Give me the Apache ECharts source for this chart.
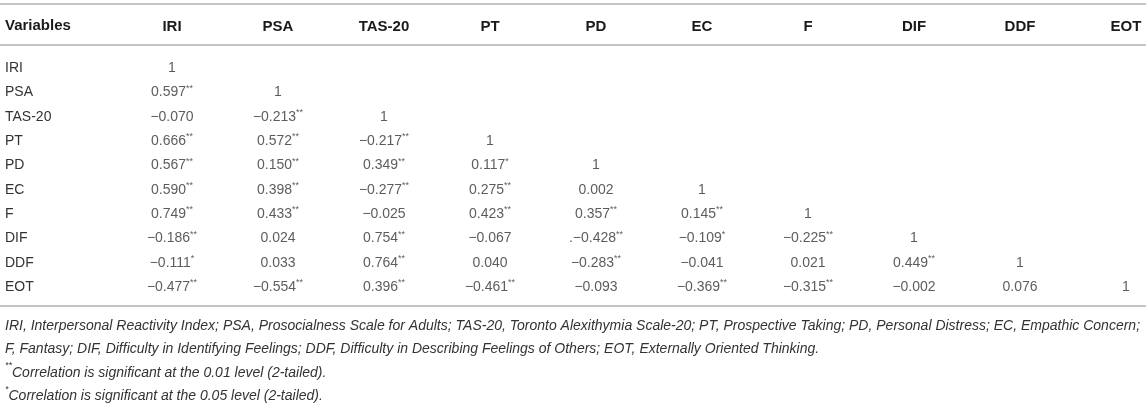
<!DOCTYPE html>
<html>
<head>
<meta charset="utf-8">
<script src="https://cdn.jsdelivr.net/npm/echarts@6/dist/echarts.min.js"></script>
<style>
  html, body { margin: 0; padding: 0; background: #fff; }
  #chart { width: 1146px; height: 416px; }
</style>
</head>
<body>
<div id="chart"></div>
<script>
// variables, same order for rows and columns
var variables = ["IRI", "PSA", "TAS-20", "PT", "PD", "EC", "F", "DIF", "DDF", "EOT"];

// lower triangle of the correlation matrix, one array per row
var rowIRI = ["1"];
var rowPSA = ["0.597**", "1"];
var rowTAS = ["−0.070", "−0.213**", "1"];
var rowPT = ["0.666**", "0.572**", "−0.217**", "1"];
var rowPD = ["0.567**", "0.150**", "0.349**", "0.117*", "1"];
var rowEC = ["0.590**", "0.398**", "−0.277**", "0.275**", "0.002", "1"];
var rowF = ["0.749**", "0.433**", "−0.025", "0.423**", "0.357**", "0.145**", "1"];
var rowDIF = ["−0.186**", "0.024", "0.754**", "−0.067", ".−0.428**", "−0.109*", "−0.225**", "1"];
var rowDDF = ["−0.111*", "0.033", "0.764**", "0.040", "−0.283**", "−0.041", "0.021", "0.449**", "1"];
var rowEOT = ["−0.477**", "−0.554**", "0.396**", "−0.461**", "−0.093", "−0.369**", "−0.315**", "−0.002", "0.076", "1"];

var footnotes = [
  "IRI, Interpersonal Reactivity Index; PSA, Prosocialness Scale for Adults; TAS-20, Toronto Alexithymia Scale-20; PT, Prospective Taking; PD, Personal Distress; EC, Empathic Concern;",
  "F, Fantasy; DIF, Difficulty in Identifying Feelings; DDF, Difficulty in Describing Feelings of Others; EOT, Externally Oriented Thinking.",
  "**Correlation is significant at the 0.01 level (2-tailed).",
  "*Correlation is significant at the 0.05 level (2-tailed)."
];

var matrix = [rowIRI, rowPSA, rowTAS, rowPT, rowPD, rowEC, rowF, rowDIF, rowDDF, rowEOT];

var font = "'Liberation Sans', Arial, sans-serif";
var textColor = "#333";
var headColor = "#1a1a1a";
var ruleColor = "#c4c4c4";

// split "0.597**" into number + superscript stars
function cellRich(s) {
  var m = s.match(/^(.*?)(\**)$/);
  return "{v|" + m[1] + "}" + (m[2] ? "{s|" + m[2] + "}" : "");
}
function noteRich(s) {
  var m = s.match(/^(\**)(.*)$/);
  return (m[1] ? "{s|" + m[1] + "}" : "") + "{n|" + m[2] + "}";
}

var cells = [];
matrix.forEach(function (row, r) {
  row.forEach(function (txt, c) {
    cells.push([c, r, txt]);
  });
});

var chart = echarts.init(document.getElementById("chart"));
var option = {
  animation: false,
  backgroundColor: "#fff",
  title: [
    {
      text: "Variables",
      left: 5,
      top: 18,
      padding: 0,
      textStyle: { fontFamily: font, fontSize: 15, fontWeight: "bold", color: headColor }
    },
    {
      text: footnotes.map(noteRich).join("\n"),
      left: 5,
      top: 314,
      padding: 0,
      textStyle: {
        fontWeight: "normal",
        rich: {
          n: { fontFamily: font, fontSize: 14, fontStyle: "italic", fontWeight: "normal", color: textColor, lineHeight: 23.5 },
          s: { fontFamily: font, fontSize: 9, fontStyle: "italic", fontWeight: "normal", color: textColor, lineHeight: 12, verticalAlign: "top" }
        }
      }
    }
  ],
  graphic: [
    { type: "line", shape: { x1: 0, y1: 4, x2: 1146, y2: 4 }, style: { stroke: ruleColor, lineWidth: 2 } },
    { type: "line", shape: { x1: 0, y1: 45, x2: 1146, y2: 45 }, style: { stroke: ruleColor, lineWidth: 2 } },
    { type: "line", shape: { x1: 0, y1: 306, x2: 1146, y2: 306 }, style: { stroke: ruleColor, lineWidth: 2 } }
  ],
  grid: {
    left: 172,
    right: 20,
    top: 68,
    bottom: 129
  },
  xAxis: {
    type: "category",
    position: "top",
    boundaryGap: false,
    data: variables,
    axisLine: { show: false },
    axisTick: { show: false },
    splitLine: { show: false },
    axisLabel: {
      interval: 0,
      margin: 41,
      verticalAlign: "middle",
      fontFamily: font,
      fontSize: 15,
      fontWeight: "bold",
      color: headColor
    }
  },
  yAxis: {
    type: "category",
    inverse: true,
    boundaryGap: false,
    data: variables,
    axisLine: { show: false },
    axisTick: { show: false },
    splitLine: { show: false },
    axisLabel: {
      interval: 0,
      align: "left",
      margin: 167,
      fontFamily: font,
      fontSize: 14,
      color: textColor
    }
  },
  series: [
    {
      type: "scatter",
      symbolSize: 0,
      silent: true,
      data: cells,
      label: {
        show: true,
        position: "inside",
        formatter: function (p) { return cellRich(p.data[2]); },
        rich: {
          v: { fontFamily: font, fontSize: 14, color: textColor, lineHeight: 17 },
          s: { fontFamily: font, fontSize: 9, color: textColor, lineHeight: 10, verticalAlign: "top" }
        }
      }
    }
  ]
};
chart.setOption(option);
</script>
</body>
</html>
